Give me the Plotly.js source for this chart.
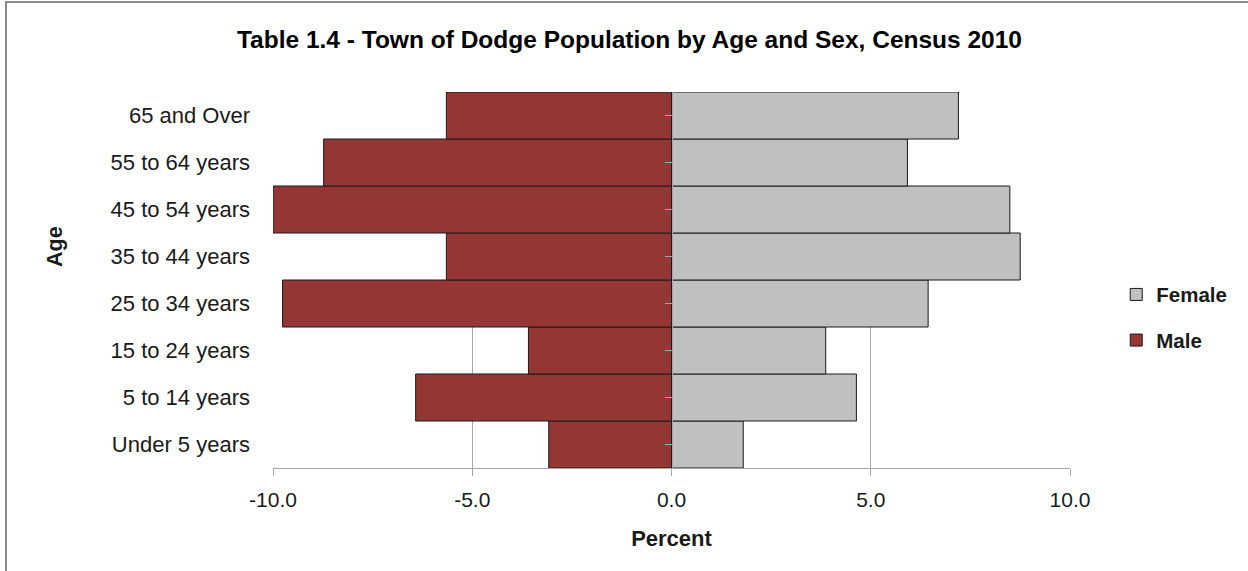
<!DOCTYPE html>
<html><head><meta charset="utf-8">
<script src="https://cdn.plot.ly/plotly-3.0.1.min.js"></script>
<style>
html,body{margin:0;padding:0;overflow:hidden;background:#fff}
#chart{width:1248px;height:571px}
#frame{position:absolute;left:5px;top:1px;width:1400px;height:800px;border:2px solid #8a8a8a;pointer-events:none}
</style></head><body>
<div id="chart"></div><div id="frame"></div>
<script>
const categories = ["Under 5 years","5 to 14 years","15 to 24 years","25 to 34 years","35 to 44 years","45 to 54 years","55 to 64 years","65 and Over"];
const maleValues = [-3.08,-6.42,-3.59,-9.76,-5.65,-10.0,-8.73,-5.65];
const femaleValues = [1.80,4.64,3.87,6.44,8.75,8.49,5.92,7.20];
const xTickValues = [-10,-5,0,5,10];
const xTickLabels = ["-10.0","-5.0","0.0","5.0","10.0"];
const xRange = [-10,10];

const FONT = "Liberation Sans, Arial, sans-serif";
const GRID = "#a6a6a6";

const female = {
  type:"bar", orientation:"h", name:"Female", legendgroup:"f",
  y:categories, x:femaleValues, xaxis:"x", yaxis:"y2",
  marker:{color:"#c0c0c0", line:{color:"#1a1a1a", width:1}},
  hoverinfo:"none"
};
const male = {
  type:"bar", orientation:"h", name:"Male", legendgroup:"m",
  y:categories, x:maleValues, xaxis:"x", yaxis:"y",
  marker:{color:"#943634", line:{color:"#1a1a1a", width:1}},
  hoverinfo:"none"
};

const zeroPos = (0 - xRange[0])/(xRange[1]-xRange[0]);

const layout = {
  width:1248, height:571, autosize:false,
  paper_bgcolor:"#fff", plot_bgcolor:"#fff",
  margin:{l:273, r:178, t:92, b:103, autoexpand:false},
  barmode:"relative", bargap:0,
  font:{family:FONT, color:"#1a1a1a"},
  title:{text:"<b>Table 1.4 - Town of Dodge Population by Age and Sex, Census 2010</b>",
    font:{family:FONT, size:24.5, color:"#000"},
    x:0.5044, xref:"container", xanchor:"center",
    y:1-39/571, yref:"container", yanchor:"middle"},
  xaxis:{range:xRange, tickvals:xTickValues, ticktext:xTickLabels,
    showgrid:true, gridcolor:GRID, gridwidth:1, zeroline:false,
    showline:true, linecolor:GRID, linewidth:1,
    ticks:"outside", ticklen:7, tickcolor:GRID, tickwidth:1,
    ticklabelstandoff:6,
    tickfont:{family:FONT, size:21, color:"#1a1a1a"},
    title:{text:"<b>Percent</b>", font:{family:FONT, size:22, color:"#1a1a1a"}, standoff:20},
    automargin:false, fixedrange:true},
  yaxis:{type:"category", categoryorder:"array", categoryarray:categories,
    range:[-0.5, categories.length-0.5],
    showgrid:false, zeroline:false, showline:false, ticks:"",
    ticklabelstandoff:22,
    tickfont:{family:FONT, size:22, color:"#1a1a1a"},
    automargin:false, fixedrange:true},
  yaxis2:{type:"category", categoryorder:"array", categoryarray:categories,
    range:[-0.5, categories.length-0.5],
    overlaying:"y", anchor:"free", position:zeroPos, side:"left",
    showgrid:false, zeroline:false, showline:true, linecolor:GRID, linewidth:1,
    ticks:"outside", ticklen:7, tickcolor:GRID, tickwidth:1,
    showticklabels:false, automargin:false, fixedrange:true},
  legend:{x:1.058, xanchor:"left", y:0.40, yanchor:"middle",
    traceorder:"grouped", tracegroupgap:16,
    font:{family:FONT, size:20.5, color:"#1a1a1a", weight:"bold"},
    bgcolor:"rgba(0,0,0,0)"},
  annotations:[{text:"<b>Age</b>", textangle:-90, showarrow:false,
    xref:"paper", yref:"paper", x:(55-273)/797, y:(468-247)/376,
    xanchor:"center", yanchor:"middle",
    font:{family:FONT, size:21.5, color:"#1a1a1a"}}]
};

Plotly.newPlot("chart", [female, male], layout, {displayModeBar:false, staticPlot:true});
</script>
</body></html>
